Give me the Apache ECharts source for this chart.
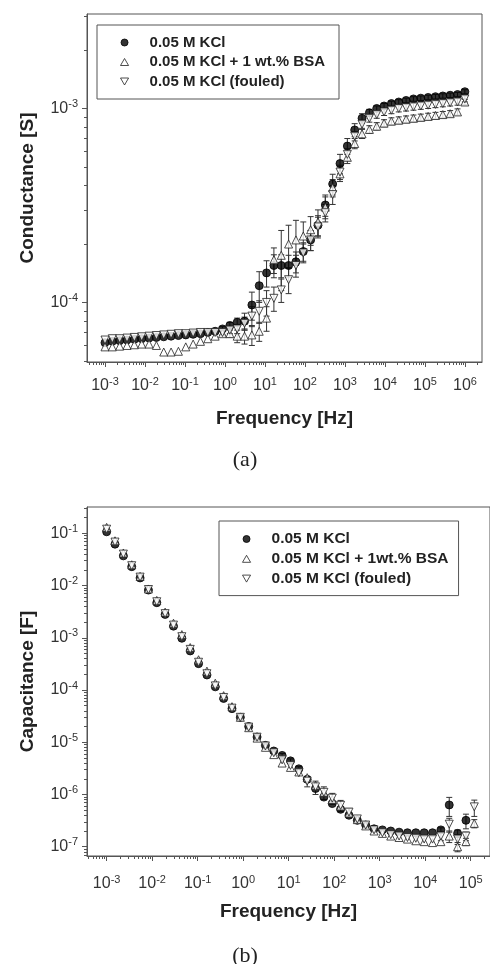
<!DOCTYPE html>
<html>
<head>
<meta charset="utf-8">
<script src="https://cdn.jsdelivr.net/npm/echarts@6/dist/echarts.min.js"></script>
<style>
  html, body { margin: 0; padding: 0; background: #fff; }
  #chart { width: 490px; height: 964px; }
</style>
</head>
<body>
<div id="chart"></div>
<script>
// frequencies [Hz]
const freqA = [0.001, 0.001526, 0.00233, 0.003556, 0.005427, 0.008279, 0.01264, 0.01928, 0.02942, 0.0449,
  0.06855, 0.1046, 0.1597, 0.2436, 0.3718, 0.5675, 0.8661, 1.322, 2.017, 3.079,
  4.699, 7.171, 10.94, 16.7, 25.49, 38.9, 59.37, 90.61, 138.3, 211.1,
  322.1, 491.7, 750.4, 1145, 1747, 2667, 4071, 6213, 9480, 14470,
  22080, 33700, 51440, 78500, 119800, 182800, 279000, 425800, 649900, 991700]
const freqB = [0.001, 0.001526, 0.00233, 0.003556, 0.005427, 0.008279, 0.01264, 0.01928, 0.02942, 0.0449,
  0.06855, 0.1046, 0.1597, 0.2436, 0.3718, 0.5675, 0.8661, 1.322, 2.017, 3.079,
  4.699, 7.171, 10.94, 16.7, 25.49, 38.9, 59.37, 90.61, 138.3, 211.1,
  322.1, 491.7, 750.4, 1145, 1747, 2667, 4071, 6213, 9480, 14470,
  22080, 33700, 51440, 78500, 119800]

const namesA = ['0.05 M KCl', '0.05 M KCl + 1 wt.% BSA', '0.05 M KCl (fouled)']
const namesB = ['0.05 M KCl', '0.05 M KCl + 1wt.% BSA', '0.05 M KCl (fouled)']

// (a) conductance [S]
const condKcl = [6.2e-5, 6.3e-5, 6.35e-5, 6.4e-5, 6.45e-5, 6.5e-5, 6.55e-5, 6.6e-5, 6.65e-5, 6.7e-5,
  6.75e-5, 6.8e-5, 6.85e-5, 6.9e-5, 7.0e-5, 7.1e-5, 7.3e-5, 7.6e-5, 7.9e-5, 8.0e-5,
  9.7e-5, 1.22e-4, 1.42e-4, 1.55e-4, 1.55e-4, 1.55e-4, 1.62e-4, 1.83e-4, 2.1e-4, 2.5e-4,
  3.18e-4, 4.08e-4, 5.2e-4, 6.4e-4, 7.75e-4, 8.9e-4, 9.5e-4, 1.0e-3, 1.03e-3, 1.06e-3,
  1.08e-3, 1.1e-3, 1.12e-3, 1.13e-3, 1.14e-3, 1.15e-3, 1.16e-3, 1.17e-3, 1.18e-3, 1.22e-3]
const condBsa = [5.9e-5, 5.9e-5, 5.95e-5, 6.0e-5, 6.05e-5, 6.1e-5, 6.1e-5, 6.0e-5, 5.55e-5, 5.55e-5,
  5.6e-5, 5.9e-5, 6.1e-5, 6.3e-5, 6.5e-5, 6.7e-5, 6.9e-5, 6.9e-5, 6.7e-5, 6.7e-5,
  6.8e-5, 7.1e-5, 8.3e-5, 1.66e-4, 1.75e-4, 2.0e-4, 2.1e-4, 2.2e-4, 2.37e-4, 2.6e-4,
  3.1e-4, 3.9e-4, 4.6e-4, 5.6e-4, 6.6e-4, 7.4e-4, 7.8e-4, 8.1e-4, 8.4e-4, 8.6e-4,
  8.7e-4, 8.8e-4, 8.9e-4, 9.0e-4, 9.1e-4, 9.2e-4, 9.3e-4, 9.4e-4, 9.6e-4, 1.08e-3]
const condFouled = [6.4e-5, 6.5e-5, 6.5e-5, 6.55e-5, 6.6e-5, 6.65e-5, 6.7e-5, 6.75e-5, 6.8e-5, 6.85e-5,
  6.9e-5, 6.9e-5, 6.95e-5, 7.0e-5, 7.0e-5, 7.0e-5, 7.0e-5, 7.2e-5, 7.3e-5, 7.8e-5,
  8.5e-5, 9.0e-5, 1.0e-4, 1.05e-4, 1.16e-4, 1.31e-4, 1.55e-4, 1.8e-4, 2.1e-4, 2.45e-4,
  2.9e-4, 3.6e-4, 4.7e-4, 5.8e-4, 7.2e-4, 8.3e-4, 8.9e-4, 9.3e-4, 9.6e-4, 9.8e-4,
  1.0e-3, 1.01e-3, 1.02e-3, 1.03e-3, 1.04e-3, 1.05e-3, 1.06e-3, 1.07e-3, 1.08e-3, 1.12e-3]
const condKclErr = [0, 0, 0, 0, 0, 0, 0, 0, 0, 0,
  0, 0, 0, 0, 0, 0, 2e-6, 3e-6, 4e-6, 8e-6,
  1.6e-5, 2.2e-5, 2.2e-5, 2.1e-5, 2.1e-5, 2e-5, 2e-5, 2e-5, 2.5e-5, 3e-5,
  4e-5, 5e-5, 6e-5, 6e-5, 6e-5, 5e-5, 4e-5, 3e-5, 3e-5, 3e-5,
  3e-5, 3e-5, 3e-5, 3e-5, 3e-5, 3e-5, 3e-5, 3e-5, 3e-5, 3e-5]
const condBsaErr = [0, 0, 0, 0, 0, 0, 0, 0, 0, 0,
  0, 0, 0, 0, 0, 0, 2e-6, 3e-6, 5e-6, 6e-6,
  8e-6, 8e-6, 1.2e-5, 2.5e-5, 6e-5, 5e-5, 5.5e-5, 4e-5, 4e-5, 4e-5,
  4e-5, 4e-5, 4e-5, 4e-5, 4e-5, 4e-5, 3.5e-5, 3.5e-5, 3.5e-5, 3.5e-5,
  3.5e-5, 3.5e-5, 3.5e-5, 3.5e-5, 3.5e-5, 3.5e-5, 3.5e-5, 3.5e-5, 3.5e-5, 3.5e-5]
const condFouledErr = [0, 0, 0, 0, 0, 0, 0, 0, 0, 0,
  0, 0, 0, 0, 0, 0, 2e-6, 3e-6, 4e-6, 6e-6,
  1e-5, 1.2e-5, 1.5e-5, 1.5e-5, 1.6e-5, 2e-5, 2e-5, 2e-5, 2.5e-5, 3e-5,
  3e-5, 4e-5, 4e-5, 4e-5, 4e-5, 4e-5, 4e-5, 4e-5, 4e-5, 4e-5,
  4e-5, 4e-5, 4e-5, 4e-5, 4e-5, 4e-5, 4e-5, 4e-5, 4e-5, 4e-5]

// (b) capacitance [F]
const capKcl = [0.107, 0.062, 0.037, 0.023, 0.014, 8.2e-3, 4.7e-3, 2.8e-3, 1.67e-3, 9.8e-4,
  5.6e-4, 3.2e-4, 1.94e-4, 1.15e-4, 6.9e-5, 4.4e-5, 3.0e-5, 2.0e-5, 1.26e-5, 8.7e-6,
  6.8e-6, 5.6e-6, 4.4e-6, 3.1e-6, 1.95e-6, 1.3e-6, 8.9e-7, 6.7e-7, 5.2e-7, 4.0e-7,
  3.2e-7, 2.6e-7, 2.2e-7, 2.1e-7, 2.0e-7, 1.9e-7, 1.85e-7, 1.85e-7, 1.85e-7, 1.85e-7,
  2.1e-7, 6.3e-7, 1.8e-7, 3.2e-7, null]
const capBsa = [0.13, 0.072, 0.042, 0.025, 0.015, 8.6e-3, 5.2e-3, 3.1e-3, 1.9e-3, 1.15e-3,
  6.5e-4, 3.8e-4, 2.3e-4, 1.35e-4, 7.8e-5, 4.8e-5, 3.0e-5, 1.9e-5, 1.2e-5, 8.0e-6,
  5.8e-6, 4.0e-6, 3.3e-6, 2.7e-6, 2.1e-6, 1.5e-6, 1.1e-6, 8.0e-7, 6.0e-7, 4.4e-7,
  3.3e-7, 2.5e-7, 2.0e-7, 1.8e-7, 1.6e-7, 1.5e-7, 1.4e-7, 1.3e-7, 1.25e-7, 1.2e-7,
  1.25e-7, 1.6e-7, 1.0e-7, 1.25e-7, 2.8e-7]
const capFouled = [0.12, 0.068, 0.04, 0.024, 0.0145, 8.4e-3, 4.9e-3, 2.9e-3, 1.75e-3, 1.05e-3,
  6.0e-4, 3.4e-4, 2.05e-4, 1.2e-4, 7.2e-5, 4.5e-5, 3.0e-5, 1.95e-5, 1.25e-5, 8.5e-6,
  6.3e-6, 4.6e-6, 3.6e-6, 2.6e-6, 1.8e-6, 1.4e-6, 1.1e-6, 8.5e-7, 6.2e-7, 4.6e-7,
  3.4e-7, 2.6e-7, 2.1e-7, 1.85e-7, 1.7e-7, 1.6e-7, 1.5e-7, 1.45e-7, 1.4e-7, 1.4e-7,
  1.6e-7, 2.7e-7, 1.4e-7, 1.6e-7, 5.8e-7]
const capKclErr = [0, 0, 0, 0, 0, 0, 0, 0, 0, 0,
  0, 0, 0, 0, 0, 0, 0, 0, 0, 0,
  0, 5e-7, 4e-7, 3e-7, 2e-7, 0, 0, 0, 0, 0,
  0, 0, 0, 0, 0, 0, 0, 0, 0, 0,
  2e-8, 2.5e-7, 3e-8, 1e-7, 0]
const capBsaErr = [0, 0, 0, 0, 0, 0, 0, 0, 0, 0,
  0, 0, 0, 0, 0, 0, 0, 0, 0, 0,
  0, 0, 0, 0, 0, 0, 0, 0, 0, 0,
  0, 0, 0, 0, 0, 0, 0, 0, 0, 0,
  0, 4e-8, 2e-8, 2e-8, 5e-8]
const capFouledErr = [0, 0, 0, 0, 0, 0, 0, 0, 0, 0,
  0, 0, 0, 0, 0, 0, 0, 0, 0, 0,
  0, 0, 0, 0, 4e-7, 4e-7, 3e-7, 2e-7, 1.5e-7, 8e-8,
  0, 0, 0, 0, 0, 0, 0, 0, 0, 0,
  3e-8, 8e-8, 3e-8, 3e-8, 2e-7]

const tickA = [1e-3, 1e-2, 1e-1, 1, 10, 100, 1e3, 1e4, 1e5, 1e6]
const tickB = [1e-3, 1e-2, 1e-1, 1, 10, 100, 1e3, 1e4, 1e5]
const tickCond = [1e-4, 1e-3]
const tickCap = [1e-7, 1e-6, 1e-5, 1e-4, 1e-3, 1e-2, 1e-1]

const ICON_CIRCLE = 'path://M5,0A5,5,0,1,1,5,10A5,5,0,1,1,5,0Z'
const ICON_UP = 'path://M5,0L10,8.66L0,8.66Z'
const ICON_DOWN = 'path://M0,0L10,0L5,8.66Z'

const FONT = 'Liberation Sans, Arial, sans-serif'
const INK = '#222'

const powLabel = (v) => {
  const e = Math.log10(v)
  if (Math.abs(e - Math.round(e)) > 1e-6) return ''
  return '{b|10}{s|' + Math.round(e) + '}'
}
const labelRich = {
  b: { fontSize: 16, color: '#333', fontFamily: FONT },
  s: { fontSize: 11, color: '#333', fontFamily: FONT, padding: [0, 0, 9, 0] }
}
const titleStyle = { fontFamily: FONT, fontWeight: 'bold', fontSize: 19, color: INK }

const makeX = (grid, min, max, ticks, margin, gap) => ({
  type: 'log', gridIndex: grid, min, max, logBase: 10,
  name: 'Frequency [Hz]', nameLocation: 'middle', nameGap: gap,
  nameTextStyle: titleStyle,
  axisLine: { show: true, lineStyle: { color: '#555', width: 1 } },
  axisTick: { show: true, inside: false, length: 5, customValues: ticks, lineStyle: { color: '#555' } },
  minorTick: { show: true, splitNumber: 9, length: 3, lineStyle: { color: '#555' } },
  axisLabel: { customValues: ticks, formatter: powLabel, rich: labelRich, margin },
  splitLine: { show: false }, minorSplitLine: { show: false }
})
const makeY = (grid, min, max, ticks, name) => ({
  type: 'log', gridIndex: grid, min, max, logBase: 10,
  name, nameLocation: 'middle', nameGap: 50,
  nameTextStyle: titleStyle,
  axisLine: { show: true, lineStyle: { color: '#555', width: 1 } },
  axisTick: { show: true, inside: false, length: 5, customValues: ticks, lineStyle: { color: '#555' } },
  minorTick: { show: true, splitNumber: 9, length: 3, lineStyle: { color: '#555' } },
  axisLabel: { customValues: ticks, formatter: powLabel, rich: labelRich, margin: 9 },
  splitLine: { show: false }, minorSplitLine: { show: false }
})

const styles = [
  { symbol: 'circle', rotate: 0, itemStyle: { color: '#000', borderColor: '#000', borderWidth: 1 } },
  { symbol: 'triangle', rotate: 0, itemStyle: { color: '#fff', borderColor: '#222', borderWidth: 1 } },
  { symbol: 'triangle', rotate: 180, itemStyle: { color: '#fff', borderColor: '#222', borderWidth: 1 } }
]
const icons = [ICON_CIRCLE, ICON_UP, ICON_DOWN]

const renderErr = (params, api) => {
  const f = api.value(0)
  const v = api.value(1)
  const e = api.value(2)
  if (!e || v == null || isNaN(v)) return
  const top = api.coord([f, v + e])
  const bot = api.coord([f, Math.max(v - e, v * 0.05)])
  const w = 3
  const st = { stroke: '#333', lineWidth: 1 }
  return {
    type: 'group',
    children: [
      { type: 'line', shape: { x1: top[0], y1: top[1], x2: bot[0], y2: bot[1] }, style: st },
      { type: 'line', shape: { x1: top[0] - w, y1: top[1], x2: top[0] + w, y2: top[1] }, style: st },
      { type: 'line', shape: { x1: bot[0] - w, y1: bot[1], x2: bot[0] + w, y2: bot[1] }, style: st }
    ]
  }
}

const buildSeries = (grid, freq, names, vals, errs) => {
  const out = []
  vals.forEach((arr, k) => {
    out.push({
      type: 'scatter', name: names[k], xAxisIndex: grid, yAxisIndex: grid,
      symbol: styles[k].symbol, symbolRotate: styles[k].rotate, symbolSize: 8,
      itemStyle: styles[k].itemStyle, z: 2 + k,
      data: freq.map((f, i) => [f, arr[i]])
    })
  })
  vals.forEach((arr, k) => {
    out.push({
      type: 'custom', name: names[k] + ' err', xAxisIndex: grid, yAxisIndex: grid,
      renderItem: renderErr, clip: true, z: 1, silent: true,
      data: freq.map((f, i) => [f, arr[i], errs[k][i]])
    })
  })
  return out
}

const legendItems = (names) => names.map((n, k) => ({
  name: n, icon: icons[k], itemStyle: styles[k].itemStyle
}))

const legendBase = {
  orient: 'vertical', itemWidth: 40, itemHeight: 7,
  borderColor: '#555', borderWidth: 1, backgroundColor: '#fff',
  selectedMode: false
}
const legendText = (size) => ({ fontFamily: FONT, fontWeight: 'bold', fontSize: size, color: INK, lineHeight: 14 })

const chart = echarts.init(document.getElementById('chart'))
chart.setOption({
  backgroundColor: '#fff',
  animation: false,
  grid: [
    { left: 87, top: 14, width: 395, height: 348, show: true, borderColor: '#555', borderWidth: 1 },
    { left: 87, top: 507, width: 404, height: 349, show: true, borderColor: '#555', borderWidth: 1 }
  ],
  xAxis: [
    makeX(0, 3.55e-4, 2.66e6, tickA, 14, 47),
    makeX(1, 3.70e-4, 2.65e5, tickB, 18, 46)
  ],
  yAxis: [
    makeY(0, 4.93e-5, 3.07e-3, tickCond, 'Conductance [S]'),
    makeY(1, 6.64e-8, 0.319, tickCap, 'Capacitance [F]')
  ],
  legend: [
    Object.assign({}, legendBase, {
      left: 97, top: 25, padding: [10, 14, 10, 23], itemGap: 4.5,
      textStyle: legendText(15),
      data: legendItems(namesA)
    }),
    Object.assign({}, legendBase, {
      left: 219, top: 521, padding: [10, 10, 9, 23], itemGap: 3.8,
      textStyle: legendText(15.5),
      data: legendItems(namesB)
    })
  ],
  graphic: [
    { type: 'text', left: 'center', top: 449, style: { text: '(a)', font: '22px "Liberation Serif", "Times New Roman", serif', fill: '#222' } },
    { type: 'text', left: 'center', top: 945, style: { text: '(b)', font: '22px "Liberation Serif", "Times New Roman", serif', fill: '#222' } }
  ],
  series: [
    ...buildSeries(0, freqA, namesA, [condKcl, condBsa, condFouled], [condKclErr, condBsaErr, condFouledErr]),
    ...buildSeries(1, freqB, namesB, [capKcl, capBsa, capFouled], [capKclErr, capBsaErr, capFouledErr])
  ]
})
</script>
</body>
</html>
